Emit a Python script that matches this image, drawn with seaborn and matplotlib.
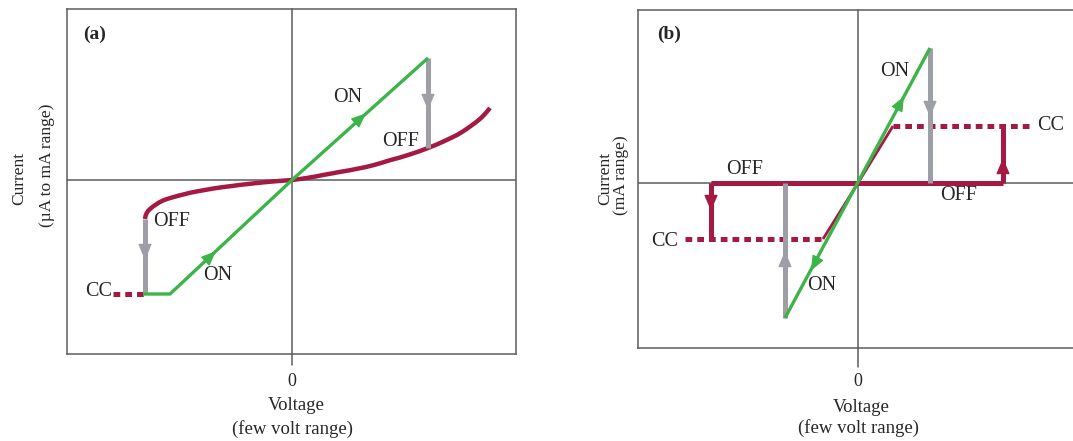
import numpy as np
import matplotlib
matplotlib.use("Agg")
import matplotlib.pyplot as plt
import seaborn as sns

# ---------------- data (pixel-like units, origin at axis crossing) ----------------
# panel (a)
a_on_x = [-149, -122, 0, 136]
a_on_y = [-114, -114, 0, 122]
a_off_x = [-147, -146.5, -145.5, -144, -142, -139, -136, -133, -129, -125, -120, -114, -108,
           -102, -94, -86, -78, -69, -60, -52, -43, -35, -26, -17, -8, 0, 8, 16, 24, 31, 40,
           48, 57, 65, 74, 82, 90, 98, 108, 117, 127, 136, 144, 151, 158, 165, 171, 176,
           181, 185, 189, 192, 195, 198]
a_off_y = [-39, -36, -33.5, -31, -29, -26.5, -24.5, -22.5, -20.5, -19, -17.5, -15.8, -14.3,
           -12.8, -11.2, -9.8, -8.4, -7.1, -6, -4.9, -3.9, -3, -2.1, -1.3, -0.6, 0, 1, 2.2,
           3.6, 5, 6.6, 8.1, 9.6, 11.2, 13, 15, 17.3, 19.8, 22.5, 25.3, 28.6, 32, 35.2, 38.3,
           41.6, 45, 48.6, 52, 55.6, 58.6, 62, 65, 68.4, 72]
a_cc_x = [-179, -147]
a_cc_y = [-114, -114]
a_set_x = [136, 136]
a_set_y = [122, 32]
a_reset_x = [-147, -147]
a_reset_y = [-39, -114]

# panel (b)
b_on_x = [-73, 72]
b_on_y = [-135, 135]
b_off_x = [-147, 145]
b_off_y = [0, 0]
b_rise_x = [145, 145]
b_rise_y = [0, 57]
b_fall_x = [-147, -147]
b_fall_y = [0, -56]
b_ramp_x = [-35, 0, 35]
b_ramp_y = [-56, 0, 57]
b_ccp_x = [35, 175]
b_ccp_y = [57, 57]
b_ccn_x = [-173, -35]
b_ccn_y = [-56, -56]
b_set_x = [72, 72]
b_set_y = [135, 0]
b_reset_x = [-73, -73]
b_reset_y = [-135, 0]

GREEN = "#3cb44a"
RED = "#a51a42"
GRAY = "#9e9ea6"
AX = "#5c5c5c"

sns.set_theme(style="white")
plt.rcParams['font.family'] = ['Liberation Serif', 'DejaVu Serif']

W, H = 1073, 441
fig = plt.figure(figsize=(W / 100, H / 100), dpi=100)

def px_axes(l, t, r, b):
    return fig.add_axes([l / W, 1 - b / H, (r - l) / W, (b - t) / H])

axa = px_axes(67, 9, 516, 354)
axa.set_xlim(-225, 224)
axa.set_ylim(-174, 171)
axb = px_axes(638, 10, 1076, 348)
axb.set_xlim(-220, 218)
axb.set_ylim(-165, 173)

for ax, ybot in ((axa, -185), (axb, -184)):
    ax.set_xticks([])
    ax.set_yticks([])
    for s in ax.spines.values():
        s.set_color(AX)
        s.set_linewidth(1.1)
        s.set_visible(True)
    ax.axhline(0, color=AX, lw=1.1, zorder=1)
    y0, y1 = ax.get_ylim()
    ax.plot([0, 0], [ybot, y1], color=AX, lw=1.1, zorder=1, clip_on=False)
    ax.set_ylim(y0, y1)


def line(ax, x, y, color, lw, z, dashed=False):
    kw = dict(x=x, y=y, ax=ax, sort=False, estimator=None, color=color, lw=lw,
              zorder=z, solid_joinstyle="round", solid_capstyle="butt")
    sns.lineplot(**kw)
    if dashed:
        ax.lines[-1].set_linestyle((0, (1.35, 1.0)))


def head(ax, x, y, dx, dy, color, L=8, ms=10):
    n = np.hypot(dx, dy)
    ux, uy = dx / n, dy / n
    ax.annotate("", xy=(x + ux * L / 2, y + uy * L / 2),
                xytext=(x - ux * L / 2, y - uy * L / 2),
                arrowprops=dict(arrowstyle="-|>,head_length=0.9,head_width=0.38",
                                color=color, lw=1, shrinkA=0, shrinkB=0,
                                mutation_scale=ms), zorder=6)

# ---- panel (a)
line(axa, a_off_x, a_off_y, RED, 3.2, 2)
line(axa, a_cc_x, a_cc_y, RED, 3.6, 2, dashed=True)
line(axa, a_set_x, a_set_y, GRAY, 3.6, 3)
line(axa, a_reset_x, a_reset_y, GRAY, 3.6, 3)
line(axa, a_on_x, a_on_y, GREEN, 2.4, 4)
head(axa, -79, -74, 1, 0.934, GREEN)
head(axa, 71, 64, 1, 0.897, GREEN)
head(axa, 136, 74, 0, -1, GRAY, ms=11)
head(axa, -147, -76, 0, -1, GRAY, ms=11)

ts = 14.5
axa.text(-209, 146, "(a)", fontsize=14, fontweight="bold", ha="left", va="center")
axa.text(56, 82, "ON", fontsize=ts, ha="center", va="center")
axa.text(109, 38, "OFF", fontsize=ts, ha="center", va="center")
axa.text(-139, -41, "OFF", fontsize=ts, ha="left", va="center")
axa.text(-74, -96, "ON", fontsize=ts, ha="center", va="center")
axa.text(-180, -112, "CC", fontsize=ts, ha="right", va="center")

# ---- panel (b)
line(axb, b_off_x, b_off_y, RED, 3.6, 2)
line(axb, b_rise_x, b_rise_y, RED, 3.6, 2)
line(axb, b_fall_x, b_fall_y, RED, 3.6, 2)
line(axb, b_ramp_x, b_ramp_y, RED, 2.0, 2)
line(axb, b_ccp_x, b_ccp_y, RED, 3.6, 2, dashed=True)
line(axb, b_ccn_x, b_ccn_y, RED, 3.6, 2, dashed=True)
line(axb, b_set_x, b_set_y, GRAY, 3.6, 3)
line(axb, b_reset_x, b_reset_y, GRAY, 3.6, 3)
line(axb, b_on_x, b_on_y, GREEN, 2.4, 4)
head(axb, 44, 83, 1, 1.875, GREEN)
head(axb, -45, -84, -1, -1.875, GREEN)
head(axb, 72, 70, 0, -1, GRAY, ms=11)
head(axb, -73, -72, 0, 1, GRAY, ms=11)
head(axb, 145, 21, 0, 1, RED, ms=11)
head(axb, -147, -24, 0, -1, RED, ms=11)

axb.text(-201, 149, "(b)", fontsize=14, fontweight="bold", ha="left", va="center")
axb.text(37, 111, "ON", fontsize=ts, ha="center", va="center")
axb.text(-36, -103, "ON", fontsize=ts, ha="center", va="center")
axb.text(-113, 14, "OFF", fontsize=ts, ha="center", va="center")
axb.text(101, -13, "OFF", fontsize=ts, ha="center", va="center")
axb.text(179, 57, "CC", fontsize=ts, ha="left", va="center", clip_on=False)
axb.text(-180, -58, "CC", fontsize=ts, ha="right", va="center", clip_on=False)

# ---- outer labels
def ftext(x, y, s, **kw):
    fig.text(x / W, 1 - y / H, s, ha="center", va="center", **kw)

ls = 12.5
ftext(292, 381, "0", fontsize=13)
ftext(296, 406, "Voltage", fontsize=13.5)
ftext(292, 429, "(few volt range)", fontsize=13.5)
ftext(858, 381, "0", fontsize=13)
ftext(861, 407, "Voltage", fontsize=13.5)
ftext(858, 428, "(few volt range)", fontsize=13.5)
ftext(19, 178, "Current", fontsize=ls, rotation=90)
ftext(47, 165, "(\u00b5A to mA range)", fontsize=ls, rotation=90)
ftext(605, 178, "Current", fontsize=ls, rotation=90)
ftext(621, 175, "(mA range)", fontsize=ls, rotation=90)

fig.savefig("out.png", dpi=100)
